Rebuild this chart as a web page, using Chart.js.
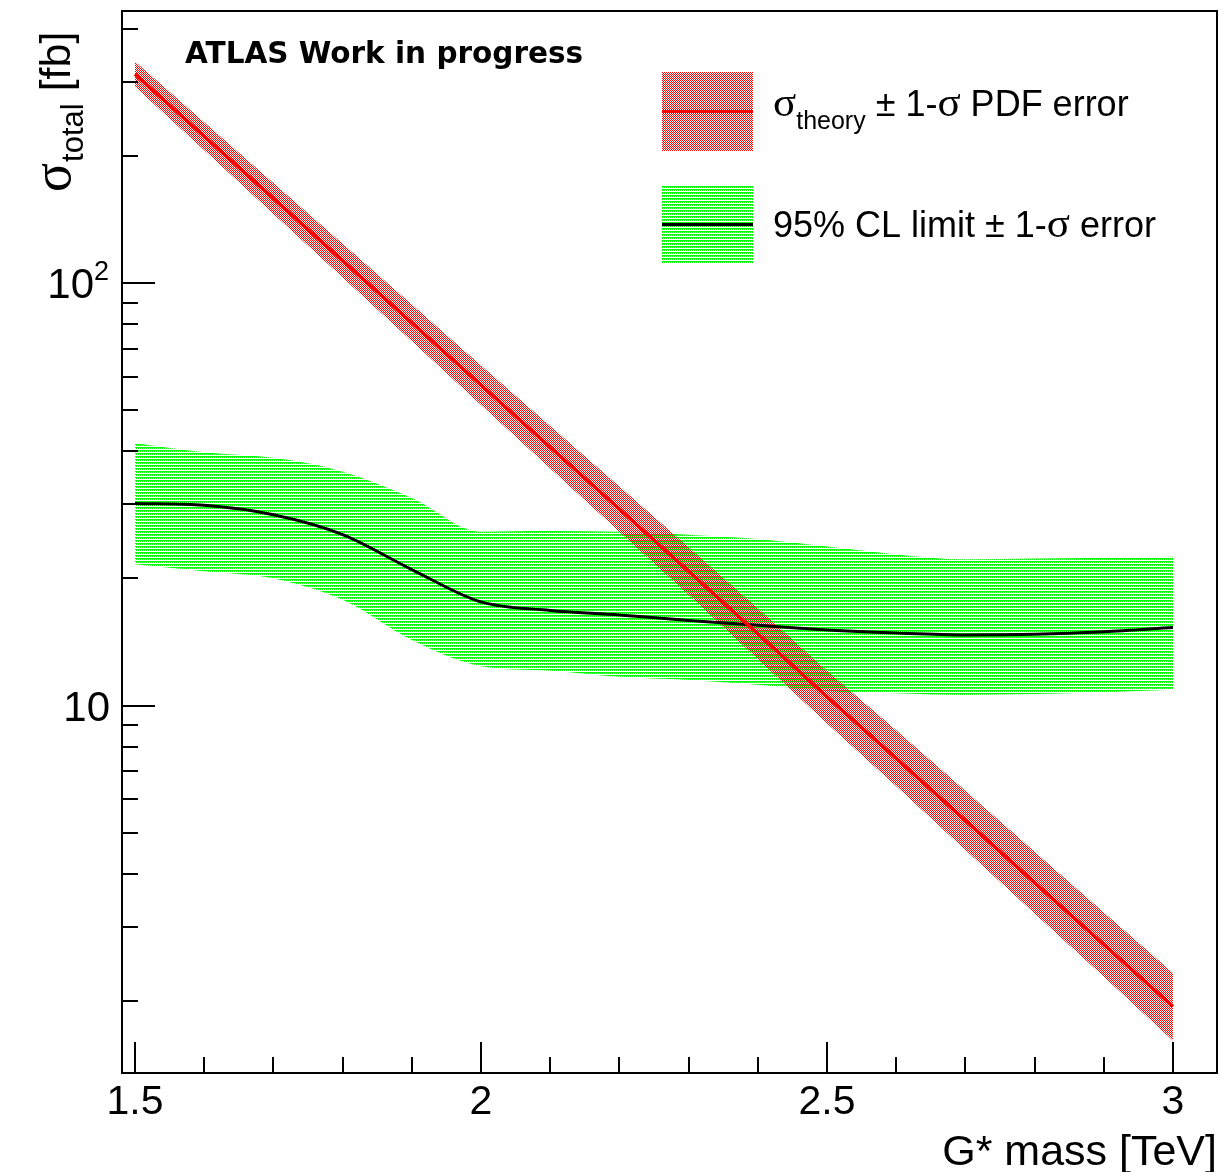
<!DOCTYPE html>
<html>
<head>
<meta charset="utf-8">
<script src="https://cdn.jsdelivr.net/npm/chart.js@4.4.1/dist/chart.umd.min.js"></script>
<style>
  html, body { margin: 0; padding: 0; background: #fff; }
  #wrap { width: 1223px; height: 1172px; }
</style>
</head>
<body>
<div id="wrap"><canvas id="grafica" width="1223" height="1172"></canvas></div>
<script>
// G* mass points [TeV]
const masses = [1.5, 1.6, 1.7, 1.8, 1.9, 2.0, 2.1, 2.2, 2.3, 2.4, 2.5, 2.6, 2.7, 2.8, 2.9, 3.0];

// theory cross-section [fb] and PDF band
const theory     = [312.6, 222.8, 158.8, 113.1, 80.6, 57.4, 40.9, 29.2, 20.8, 14.8, 10.5, 7.5, 5.35, 3.81, 2.72, 1.94];
const theoryUp   = [335.1, 240.6, 172.8, 124.0, 89.1, 63.9, 45.9, 33.0, 23.7, 17.0, 12.1, 8.75, 6.29, 4.51, 3.24, 2.33];
const theoryDown = [291.7, 206.3, 145.9, 103.1, 72.9, 51.5, 36.4, 25.8, 18.3, 12.9, 9.07, 6.44, 4.55, 3.22, 2.28, 1.61];

// 95% CL limit [fb] and its band
const limit     = [30.1, 29.8, 28.3, 25.4, 21.0, 17.6, 16.8, 16.4, 15.9, 15.5, 15.1, 14.85, 14.7, 14.75, 14.95, 15.3];
const limitUp   = [41.8, 39.8, 38.6, 35.8, 31.0, 25.8, 25.9, 25.8, 25.4, 24.8, 23.8, 22.8, 22.2, 22.3, 22.4, 22.5];
const limitDown = [21.6, 20.8, 20.0, 17.8, 14.3, 12.4, 12.1, 11.7, 11.5, 11.2, 10.85, 10.7, 10.6, 10.65, 10.75, 10.9];

// axis ticks
const xMajor = [1.5, 2, 2.5, 3];
const xTickLabels = ['1.5', '2', '2.5', '3'];
const yMajor = [10, 100];
const yTickLabels = [['10', ''], ['10', '2']];

const xMin = 1.4812, xMax = 3.0636;
const yMin = 1.35, yMax = 441;

function pts(ys) {
  return masses.map((m, i) => ({ x: m, y: ys[i] }));
}

function makePattern(color, w, h, cells) {
  const c = document.createElement('canvas');
  c.width = w; c.height = h;
  const cx = c.getContext('2d');
  cx.fillStyle = color;
  cells.forEach(p => cx.fillRect(p[0], p[1], 1, 1));
  return cx.createPattern(c, 'repeat');
}

const redFill = makePattern('#ff0000', 2, 2, [[0, 0], [1, 1]]);
const greenFill = makePattern('#00ff00', 2, 3, [[0, 0], [1, 0], [0, 1]]);

const SANS = '"Liberation Sans", Arial, sans-serif';
const SERIF = '"Liberation Serif", "DejaVu Serif", serif';

const decor = {
  id: 'decor',
  afterDraw(chart) {
    const ctx = chart.ctx;
    const a = chart.chartArea;
    const xs = chart.scales.x, ys = chart.scales.y;
    ctx.save();

    // frame
    ctx.strokeStyle = '#000';
    ctx.lineWidth = 2;
    ctx.strokeRect(a.left, a.top, a.right - a.left, a.bottom - a.top);

    // x ticks (inward)
    ctx.lineWidth = 2;
    for (let k = 15; k <= 30; k++) {
      const v = k / 10;
      const px = Math.round(xs.getPixelForValue(v));
      const major = (k % 5 === 0);
      ctx.beginPath();
      ctx.moveTo(px, a.bottom);
      ctx.lineTo(px, a.bottom - (major ? 31 : 16));
      ctx.stroke();
    }
    // y ticks (inward)
    for (let d = 1; d <= 100; d *= 10) {
      for (let m = 1; m <= 9; m++) {
        const v = m * d;
        if (v < yMin || v > yMax) continue;
        const py = Math.round(ys.getPixelForValue(v));
        ctx.beginPath();
        ctx.moveTo(a.left, py);
        ctx.lineTo(a.left + (m === 1 ? 33 : 16), py);
        ctx.stroke();
      }
    }

    ctx.fillStyle = '#000';
    // x tick labels
    ctx.font = '41px ' + SANS;
    ctx.textAlign = 'center';
    ctx.textBaseline = 'alphabetic';
    xMajor.forEach((v, i) => {
      ctx.fillText(xTickLabels[i], xs.getPixelForValue(v), 1114);
    });
    // y tick labels
    yMajor.forEach((v, i) => {
      const py = ys.getPixelForValue(v);
      const [base, sup] = yTickLabels[i];
      ctx.textAlign = 'right';
      ctx.font = '27px ' + SANS;
      const sw = sup ? ctx.measureText(sup).width : 0;
      const right = sup ? 109 : 110;
      if (sup) ctx.fillText(sup, right, py - 3);
      ctx.font = '42px ' + SANS;
      ctx.fillText(base, right - sw, py + 15);
    });

    // x title
    ctx.textAlign = 'right';
    ctx.font = '43px ' + SANS;
    ctx.fillText('G* mass [TeV]', a.right, 1165);

    // y title (rotated)
    ctx.save();
    ctx.translate(70, 192);
    ctx.rotate(-Math.PI / 2);
    ctx.textAlign = 'left';
    let x = 0;
    ctx.font = '54px ' + SERIF;
    ctx.fillText('\u03c3', x, 0);
    x += ctx.measureText('\u03c3').width + 1;
    ctx.font = '31px ' + SANS;
    ctx.fillText('total', x, 13);
    x += ctx.measureText('total').width;
    ctx.font = '43px ' + SANS;
    ctx.fillText(' [fb]', x, 0);
    ctx.restore();

    // ATLAS label
    ctx.textAlign = 'left';
    ctx.font = 'bold 29.5px "DejaVu Sans", sans-serif';
    ctx.fillText('ATLAS Work in progress', 185, 63);

    // legend
    const drawEntry = (y0, fill, lineColor, textY, parts) => {
      ctx.fillStyle = fill;
      ctx.fillRect(662, y0, 91, 79);
      ctx.strokeStyle = lineColor;
      ctx.lineWidth = 3;
      ctx.beginPath();
      ctx.moveTo(662, y0 + 39.5);
      ctx.lineTo(753, y0 + 39.5);
      ctx.stroke();
      ctx.fillStyle = '#000';
      let tx = 773;
      parts.forEach(p => {
        ctx.font = p.font;
        ctx.fillText(p.t, tx, textY + (p.dy || 0));
        tx += ctx.measureText(p.t).width;
      });
    };
    drawEntry(72, redFill, '#ff0000', 116, [
      { t: '\u03c3', font: '43px ' + SERIF },
      { t: 'theory', font: '25px ' + SANS, dy: 13 },
      { t: ' \u00b1 1-', font: '36px ' + SANS },
      { t: '\u03c3', font: '43px ' + SERIF },
      { t: ' PDF error', font: '36px ' + SANS }
    ]);
    drawEntry(185, greenFill, '#000000', 237, [
      { t: '95% CL limit \u00b1 1-', font: '36px ' + SANS },
      { t: '\u03c3', font: '43px ' + SERIF },
      { t: ' error', font: '36px ' + SANS }
    ]);

    ctx.restore();
  }
};

const graph = document.querySelector('#grafica');

const data = {
  datasets: [
    { label: 'limitUp', data: pts(limitUp), fill: '+1', backgroundColor: greenFill,
      borderWidth: 0, pointRadius: 0, cubicInterpolationMode: 'monotone', order: 6 },
    { label: 'limitDown', data: pts(limitDown), fill: false,
      borderWidth: 0, pointRadius: 0, cubicInterpolationMode: 'monotone', order: 5 },
    { label: 'theoryUp', data: pts(theoryUp), fill: '+1', backgroundColor: redFill,
      borderWidth: 0, pointRadius: 0, order: 4 },
    { label: 'theoryDown', data: pts(theoryDown), fill: false,
      borderWidth: 0, pointRadius: 0, order: 3 },
    { label: '95% CL limit', data: pts(limit), fill: false, borderColor: '#000000',
      borderWidth: 3, pointRadius: 0, cubicInterpolationMode: 'monotone', order: 2 },
    { label: 'theory', data: pts(theory), fill: false, borderColor: '#ff0000',
      borderWidth: 3.5, pointRadius: 0, order: 1 }
  ]
};

const config = {
  type: 'line',
  data: data,
  options: {
    responsive: false,
    animation: false,
    devicePixelRatio: 1,
    layout: { padding: { left: 122, top: 11, right: 6, bottom: 99 } },
    plugins: {
      legend: { display: false },
      tooltip: { enabled: false },
      filler: { propagate: false }
    },
    scales: {
      x: { type: 'linear', min: xMin, max: xMax, display: false },
      y: { type: 'logarithmic', min: yMin, max: yMax, display: false }
    }
  },
  plugins: [decor]
};
new Chart(graph, config);
</script>
</body>
</html>
